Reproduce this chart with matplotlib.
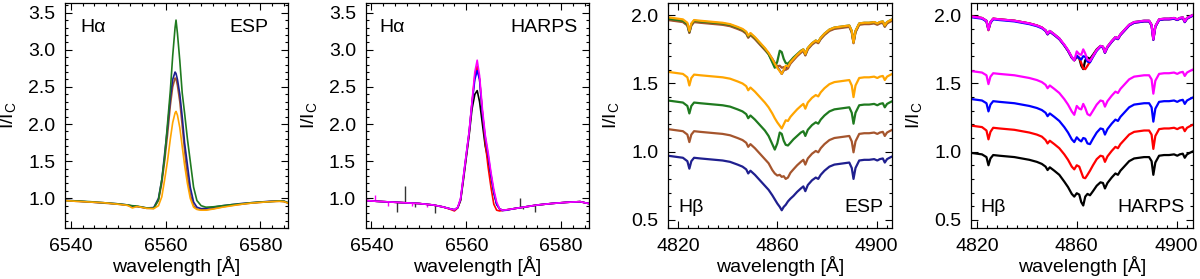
import matplotlib
matplotlib.use("Agg")
import matplotlib.pyplot as plt
from matplotlib.ticker import MultipleLocator, FixedLocator, FormatStrFormatter
import numpy as np

plt.rcParams['font.family'] = ['Liberation Sans', 'DejaVu Sans']
plt.rcParams['mathtext.fontset'] = 'custom'
plt.rcParams['mathtext.rm'] = 'Liberation Sans'
plt.rcParams['mathtext.it'] = 'Liberation Sans'

# ---------------- H-alpha, ESP ----------------
wl_ha_esp = [6538.8, 6541, 6544, 6547, 6550, 6552, 6553, 6554, 6556, 6557.5, 6558.5, 6559.2,
             6559.8, 6560.4, 6561.0, 6561.5, 6562.0, 6562.2, 6562.5, 6563.0, 6563.5, 6564.0,
             6564.6, 6565.2, 6565.9, 6566.6, 6567.5, 6568.5, 6570, 6572, 6574, 6576, 6578,
             6580, 6582, 6584, 6585, 6585.8]
ha_esp_blue = [0.975, 0.965, 0.95, 0.94, 0.925, 0.91, 0.895, 0.89, 0.87, 0.875, 1.0, 1.25, 1.6,
               1.95, 2.35, 2.6, 2.7, 2.68, 2.6, 2.4, 2.1, 1.75, 1.45, 1.15, 0.95, 0.88, 0.86,
               0.865, 0.88, 0.90, 0.915, 0.93, 0.94, 0.95, 0.96, 0.965, 0.96, 0.94]
ha_esp_brown = [0.97, 0.96, 0.95, 0.935, 0.92, 0.905, 0.885, 0.89, 0.865, 0.865, 0.97, 1.2, 1.5,
                1.85, 2.25, 2.5, 2.62, 2.61, 2.52, 2.3, 1.98, 1.65, 1.3, 1.05, 0.9, 0.855, 0.845,
                0.845, 0.86, 0.885, 0.905, 0.92, 0.935, 0.945, 0.955, 0.96, 0.955, 0.935]
ha_esp_green = [0.97, 0.965, 0.955, 0.94, 0.925, 0.91, 0.90, 0.895, 0.87, 0.865, 0.98, 1.25, 1.55,
                2.0, 2.45, 2.92, 3.30, 3.40, 3.22, 2.85, 2.42, 2.15, 1.80, 1.50, 1.15, 0.97, 0.90,
                0.88, 0.885, 0.90, 0.915, 0.925, 0.94, 0.95, 0.955, 0.965, 0.96, 0.94]
ha_esp_orange = [0.97, 0.96, 0.95, 0.94, 0.92, 0.905, 0.87, 0.89, 0.865, 0.86, 0.9, 1.02, 1.25,
                 1.5, 1.8, 2.02, 2.15, 2.17, 2.12, 1.95, 1.7, 1.45, 1.2, 1.0, 0.88, 0.85, 0.84,
                 0.84, 0.855, 0.88, 0.90, 0.92, 0.935, 0.945, 0.955, 0.96, 0.955, 0.935]

# ---------------- H-alpha, HARPS ----------------
wl_ha_harps = [6538.8, 6541, 6544, 6547, 6550, 6553, 6555, 6556.5, 6557.5, 6558.2, 6558.8, 6559.4,
               6560.0, 6560.6, 6561.2, 6561.8, 6562.3, 6562.8, 6563.4, 6564.0, 6564.6, 6565.2,
               6565.8, 6566.4, 6567.0, 6567.6, 6568.5, 6570, 6572, 6575, 6578, 6581, 6584, 6585,
               6585.8]
ha_harps_black = [0.97, 0.96, 0.95, 0.94, 0.93, 0.91, 0.885, 0.86, 0.845, 0.875, 0.97, 1.25,
                  1.55, 1.85, 2.2, 2.4, 2.45, 2.3, 2.0, 1.7, 1.52, 1.3, 1.08, 0.92, 0.86, 0.84,
                  0.845, 0.86, 0.88, 0.91, 0.93, 0.945, 0.955, 0.94, 0.93]
ha_harps_red = [0.97, 0.96, 0.95, 0.94, 0.93, 0.91, 0.885, 0.855, 0.83, 0.87, 0.98, 1.28,
                1.58, 1.88, 2.28, 2.65, 2.78, 2.6, 2.15, 1.75, 1.42, 1.15, 0.92, 0.84, 0.83,
                0.835, 0.845, 0.86, 0.88, 0.91, 0.93, 0.945, 0.955, 0.94, 0.93]
ha_harps_blue = [0.97, 0.96, 0.95, 0.94, 0.93, 0.91, 0.885, 0.86, 0.845, 0.875, 0.99, 1.29,
                 1.59, 1.89, 2.28, 2.6, 2.72, 2.6, 2.15, 1.82, 1.58, 1.32, 1.08, 0.92, 0.86,
                 0.835, 0.84, 0.86, 0.88, 0.91, 0.93, 0.945, 0.955, 0.94, 0.93]
ha_harps_magenta = [0.97, 0.96, 0.95, 0.94, 0.93, 0.91, 0.885, 0.86, 0.845, 0.88, 1.0, 1.3,
                    1.6, 1.9, 2.3, 2.7, 2.86, 2.65, 2.2, 1.85, 1.62, 1.35, 1.12, 0.95, 0.86,
                    0.84, 0.845, 0.86, 0.88, 0.91, 0.93, 0.945, 0.955, 0.94, 0.93]
# narrow telluric / cosmic features in HARPS H-alpha
ha_spike_wl = [6545.4, 6547.1, 6549.2, 6553.4, 6571.3, 6571.9, 6574.5]
ha_spike_from = [0.95, 0.94, 0.93, 0.91, 0.88, 0.88, 0.91]
ha_spike_to = [0.82, 1.17, 0.88, 0.80, 1.00, 0.85, 0.82]
ha_mspike_wl = [6540.8, 6543.6, 6548.6, 6551.8]
ha_mspike_from = [0.96, 0.95, 0.94, 0.92]
ha_mspike_to = [1.05, 0.90, 0.89, 0.88]

# ---------------- H-beta ----------------
wl_hb = [4816, 4818, 4820, 4822, 4823.8, 4824.6, 4825.4, 4826.5, 4829, 4832, 4835, 4838, 4841,
         4844, 4846, 4847.5, 4848.3, 4849.2, 4851, 4853, 4855, 4856.5, 4858, 4859, 4860, 4861,
         4861.8, 4862.6, 4863.4, 4864.3, 4865.3, 4866.5, 4868, 4869.5, 4870.5, 4871.3, 4872.3,
         4874, 4875.5, 4876.5, 4877.5, 4879, 4881, 4883, 4885, 4887, 4889, 4890, 4890.7, 4891.5,
         4893, 4895, 4897, 4899, 4900.3, 4901.3, 4902.5, 4903.3, 4904.2, 4905.2, 4906.3]

hb_esp_blue = [.97, .965, .96, .955, .93, .875, .93, .955, .95, .945,
               .94, .935, .925, .905, .89, .87, .84, .86, .83, .79,
               .75, .72, .68, .65, .62, .595, .57, .595, .61, .635,
               .655, .675, .705, .73, .745, .71, .755, .79, .81, .80,
               .83, .86, .89, .905, .91, .915, .92, .88, .80, .88,
               .935, .94, .94, .945, .935, .945, .95, .92, .945, .955, .965]
hb_esp_brown = [.965, .96, .955, .95, .925, .87, .925, .95, .945, .94,
                .935, .93, .92, .90, .885, .865, .835, .855, .825, .785,
                .745, .715, .665, .64, .625, .63, .615, .62, .60, .61,
                .645, .67, .70, .725, .74, .705, .75, .785, .805, .795,
                .825, .855, .885, .90, .905, .91, .915, .875, .795, .875,
                .93, .935, .935, .94, .93, .94, .945, .915, .94, .95, .96]
hb_esp_green = [.975, .97, .965, .96, .935, .88, .935, .96, .955, .95,
                .945, .94, .93, .91, .895, .875, .845, .865, .835, .795,
                .755, .715, .655, .615, .66, .74, .73, .68, .65, .645,
                .665, .69, .715, .74, .75, .715, .76, .795, .815, .805,
                .835, .865, .895, .91, .915, .92, .925, .885, .805, .885,
                .94, .945, .945, .95, .94, .95, .955, .925, .95, .96, .97]
hb_esp_orange = [.985, .98, .975, .97, .945, .885, .94, .965, .96, .955,
                 .95, .945, .935, .915, .90, .88, .85, .87, .84, .80,
                 .76, .725, .68, .645, .615, .59, .57, .60, .63, .625,
                 .655, .68, .71, .735, .75, .715, .76, .795, .815, .805,
                 .835, .865, .895, .91, .915, .92, .925, .885, .80, .885,
                 .94, .945, .945, .95, .94, .95, .955, .925, .95, .96, .97]

hb_harps_black = [.99, .99, .985, .98, .96, .90, .95, .975, .97, .965,
                  .96, .95, .94, .925, .91, .89, .865, .885, .86, .83,
                  .78, .74, .69, .67, .695, .685, .63, .605, .67, .69,
                  .68, .71, .75, .775, .77, .73, .77, .81, .84, .83,
                  .86, .89, .93, .95, .955, .96, .96, .93, .83, .92,
                  .97, .975, .975, .98, .97, .98, .985, .955, .98, .99, 1.0]
hb_harps_red = [.995, .99, .985, .98, .955, .89, .945, .975, .97, .965,
                .96, .95, .94, .925, .91, .885, .86, .88, .855, .825,
                .78, .74, .69, .67, .70, .69, .65, .61, .605, .63,
                .66, .70, .745, .77, .765, .725, .765, .805, .835, .825,
                .855, .885, .925, .945, .95, .955, .955, .925, .82, .915,
                .965, .97, .97, .975, .965, .975, .98, .95, .975, .985, .995]
hb_harps_blue = [.99, .985, .98, .975, .955, .895, .945, .97, .965, .96,
                 .955, .945, .935, .92, .905, .885, .86, .88, .855, .825,
                 .78, .74, .69, .67, .705, .685, .675, .70, .695, .66,
                 .655, .695, .74, .77, .765, .725, .765, .805, .835, .825,
                 .855, .885, .925, .945, .95, .955, .955, .925, .82, .915,
                 .965, .97, .97, .975, .965, .975, .98, .95, .975, .985, .995]
hb_harps_magenta = [.995, .99, .985, .98, .96, .895, .95, .975, .97, .965,
                    .96, .95, .94, .925, .91, .89, .865, .885, .86, .83,
                    .785, .745, .695, .67, .735, .715, .71, .75, .72, .675,
                    .665, .70, .745, .775, .77, .73, .77, .81, .84, .83,
                    .86, .89, .93, .95, .955, .96, .96, .93, .825, .92,
                    .97, .975, .975, .98, .97, .98, .985, .955, .98, .99, 1.0]

esp_offsets = [0.0, 0.2, 0.4, 0.6]
harps_offsets = [0.0, 0.2, 0.4, 0.6]
group_offset = 1.0

ha_xticks = [6540, 6560, 6580]
hb_xticks = [4820, 4860, 4900]

C_BLUE = '#1f1f8f'
C_BROWN = '#a5552d'
C_GREEN = '#1f7a1f'
C_ORANGE = '#ffa500'

fig = plt.figure(figsize=(12, 2.79), dpi=100)
H = 225 / 279
B = 51 / 279
ax1 = fig.add_axes([65 / 1200, B, 223 / 1200, H])
ax2 = fig.add_axes([365.7 / 1200, B, 223 / 1200, H])
ax3 = fig.add_axes([668 / 1200, B, 224 / 1200, H])
ax4 = fig.add_axes([971 / 1200, B, 222 / 1200, H])

FS = 14
lw_a = 1.2
lw_b = 1.6

# Panel 1
for y, c in [(ha_esp_brown, C_BROWN), (ha_esp_blue, C_BLUE), (ha_esp_green, C_GREEN), (ha_esp_orange, C_ORANGE)]:
    ax1.plot(wl_ha_esp, y, color=c, lw=lw_a)

# Panel 2
ax2.vlines(ha_spike_wl, ha_spike_from, ha_spike_to, color='#333333', lw=1.0)
ax2.vlines(ha_mspike_wl, ha_mspike_from, ha_mspike_to, color='#ff00ff', lw=1.0)
for y, c in [(ha_harps_black, 'black'), (ha_harps_red, '#ff0000'), (ha_harps_blue, '#0000ff'), (ha_harps_magenta, '#ff00ff')]:
    ax2.plot(wl_ha_harps, y, color=c, lw=lw_a)

# Panel 3
esp_series = [(hb_esp_blue, C_BLUE), (hb_esp_brown, C_BROWN), (hb_esp_green, C_GREEN), (hb_esp_orange, C_ORANGE)]
for (y, c), off in zip(esp_series, esp_offsets):
    ax3.plot(wl_hb, np.array(y) + off, color=c, lw=lw_b)
for y, c in esp_series:
    ax3.plot(wl_hb, np.array(y) + group_offset, color=c, lw=lw_b)

# Panel 4
harps_series = [(hb_harps_black, 'black'), (hb_harps_red, '#ff0000'), (hb_harps_blue, '#0000ff'), (hb_harps_magenta, '#ff00ff')]
for (y, c), off in zip(harps_series, harps_offsets):
    ax4.plot(wl_hb, np.array(y) + off, color=c, lw=lw_b)
for y, c in harps_series:
    ax4.plot(wl_hb, np.array(y) + group_offset, color=c, lw=lw_b)

for ax in (ax1, ax2):
    ax.set_xlim(6538.8, 6585.8)
    ax.set_ylim(0.6, 3.63)
    ax.xaxis.set_major_locator(FixedLocator(ha_xticks))
    ax.xaxis.set_minor_locator(MultipleLocator(2.5))
    ax.yaxis.set_major_locator(MultipleLocator(0.5))
    ax.yaxis.set_minor_locator(MultipleLocator(0.1))
for ax, xl in ((ax3, (4816, 4906.2)), (ax4, (4817.6, 4906.6))):
    ax.set_xlim(*xl)
    ax.set_ylim(0.44, 2.09)
    ax.xaxis.set_major_locator(FixedLocator(hb_xticks))
    ax.xaxis.set_minor_locator(MultipleLocator(4))
    ax.yaxis.set_major_locator(MultipleLocator(0.5))
    ax.yaxis.set_minor_locator(MultipleLocator(0.1))

for ax in (ax1, ax2, ax3, ax4):
    ax.tick_params(which='both', direction='in', top=True, right=True, labelsize=FS, pad=7,
                   width=0.8, colors='black')
    ax.tick_params(which='major', length=5)
    ax.tick_params(which='minor', length=2.5)
    for s in ax.spines.values():
        s.set_linewidth(0.9)
    ax.set_xlabel('wavelength [Å]', fontsize=FS, labelpad=1)
    ax.set_ylabel(r'I/I$_{\rm C}$', fontsize=FS)
    ax.yaxis.set_label_coords(-0.21, 0.5)
    ax.yaxis.set_major_formatter(FormatStrFormatter('%.1f'))

ax1.text(0.067, 0.89, 'Hα', transform=ax1.transAxes, fontsize=FS, ha='left', va='center')
ax1.text(0.91, 0.89, 'ESP', transform=ax1.transAxes, fontsize=FS, ha='right', va='center')
ax2.text(0.063, 0.89, 'Hα', transform=ax2.transAxes, fontsize=FS, ha='left', va='center')
ax2.text(0.95, 0.89, 'HARPS', transform=ax2.transAxes, fontsize=FS, ha='right', va='center')
ax3.text(0.045, 0.09, 'Hβ', transform=ax3.transAxes, fontsize=FS, ha='left', va='center')
ax3.text(0.96, 0.09, 'ESP', transform=ax3.transAxes, fontsize=FS, ha='right', va='center')
ax4.text(0.04, 0.09, 'Hβ', transform=ax4.transAxes, fontsize=FS, ha='left', va='center')
ax4.text(0.964, 0.09, 'HARPS', transform=ax4.transAxes, fontsize=FS, ha='right', va='center')

fig.savefig('out.png', dpi=100)
